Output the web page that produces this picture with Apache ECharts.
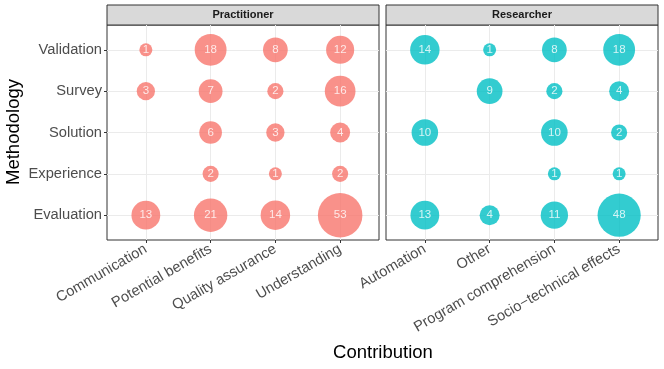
<!DOCTYPE html>
<html>
<head>
<meta charset="utf-8">
<script src="https://cdn.jsdelivr.net/npm/echarts@6/dist/echarts.min.js"></script>
<style>
  html, body { margin: 0; padding: 0; background: #fff; }
  #chart { width: 664px; height: 369px; }
</style>
</head>
<body>
<div id="chart"></div>
<script>
// methodologies, bottom to top (as ggplot orders factor levels)
const methods = ['Evaluation', 'Experience', 'Solution', 'Survey', 'Validation'];
const practCats = ['Communication', 'Potential benefits', 'Quality assurance', 'Understanding'];
const resCats = ['Automation', 'Other', 'Program comprehension', 'Socio\u2212technical effects'];

// rows follow methods, columns follow the categories; null = no point
const practCounts = [
    [13, 21, 14, 53],
    [null, 2, 1, 2],
    [null, 6, 3, 4],
    [3, 7, 2, 16],
    [1, 18, 8, 12]
];
const resCounts = [
    [13, 4, 11, 48],
    [null, null, 1, 1],
    [10, null, 10, 2],
    [null, 9, 2, 4],
    [14, 1, 8, 18]
];

const font = 'Liberation Sans, Arial, sans-serif';
const panelTop = 25, panelH = 215, panelW = 272;
const leftX = [107, 386];

function toPoints(counts) {
    const pts = [];
    counts.forEach((row, yi) => {
        row.forEach((v, xi) => {
            if (v != null) pts.push([xi, yi, v]);
        });
    });
    return pts;
}

// bubble diameter grows roughly like ggplot's size scale
const bubbleSize = val => 13 * Math.pow(val[2], 0.31);

function xAxisFor(idx, cats) {
    return {
        type: 'value', gridIndex: idx, min: -0.6, max: cats.length - 1 + 0.6,
        axisLine: { show: false, onZero: false },
        axisTick: { show: true, length: 3, customValues: cats.map((c, i) => i),
            lineStyle: { color: '#333', width: 1 } },
        axisLabel: {
            customValues: cats.map((c, i) => i),
            formatter: v => cats[Math.round(v)],
            rotate: 30, margin: 8, fontSize: 14.7, color: '#4D4D4D', fontFamily: font
        },
        splitLine: { show: true, lineStyle: { color: '#EBEBEB', width: 1 } }
    };
}

function yAxisFor(idx, showLabels) {
    return {
        type: 'value', gridIndex: idx, min: -0.6, max: methods.length - 1 + 0.6,
        axisLine: { show: false, onZero: false },
        axisTick: { show: showLabels, length: 3, customValues: methods.map((m, i) => i),
            lineStyle: { color: '#333', width: 1 } },
        axisLabel: {
            show: showLabels,
            customValues: methods.map((m, i) => i),
            formatter: v => methods[Math.round(v)],
            margin: 5, fontSize: 14.7, color: '#4D4D4D', fontFamily: font
        },
        splitLine: { show: true, lineStyle: { color: '#EBEBEB', width: 1 } }
    };
}

function bubbleSeries(idx, counts, color) {
    return {
        type: 'scatter', xAxisIndex: idx, yAxisIndex: idx,
        data: toPoints(counts),
        symbolSize: bubbleSize,
        itemStyle: { color: color, opacity: 0.8 },
        label: {
            show: true, position: 'inside', formatter: p => p.value[2],
            color: '#fff', fontSize: 11.5, fontFamily: font
        },
        emphasis: { disabled: true },
        z: 3
    };
}

function strip(x, text) {
    return [
        { type: 'rect', shape: { x: x, y: 5, width: panelW, height: 20 },
          style: { fill: '#D9D9D9', stroke: '#333', lineWidth: 1 } },
        { type: 'text', x: x + panelW / 2, y: 15,
          style: { text: text, fill: '#1A1A1A', font: 'bold 11px ' + font,
                   textAlign: 'center', textVerticalAlign: 'middle' } }
    ];
}

const chart = echarts.init(document.getElementById('chart'), null, { renderer: 'canvas' });
chart.setOption({
    animation: false,
    backgroundColor: '#fff',
    grid: leftX.map(x => ({
        left: x, top: panelTop, width: panelW, height: panelH,
        show: true, borderColor: '#333', borderWidth: 1, backgroundColor: 'transparent'
    })),
    xAxis: [xAxisFor(0, practCats), xAxisFor(1, resCats)],
    yAxis: [yAxisFor(0, true), yAxisFor(1, false)],
    series: [
        bubbleSeries(0, practCounts, '#F8766D'),
        bubbleSeries(1, resCounts, '#00BFC4')
    ],
    graphic: [
        ...strip(leftX[0], 'Practitioner'),
        ...strip(leftX[1], 'Researcher'),
        { type: 'text', x: 383, y: 353,
          style: { text: 'Contribution', fill: '#000', font: '18.5px ' + font,
                   textAlign: 'center', textVerticalAlign: 'middle' } },
        { type: 'text', x: 14, y: 132, rotation: Math.PI / 2,
          style: { text: 'Methodology', fill: '#000', font: '18.5px ' + font,
                   textAlign: 'center', textVerticalAlign: 'middle' } }
    ]
});
</script>
</body>
</html>
